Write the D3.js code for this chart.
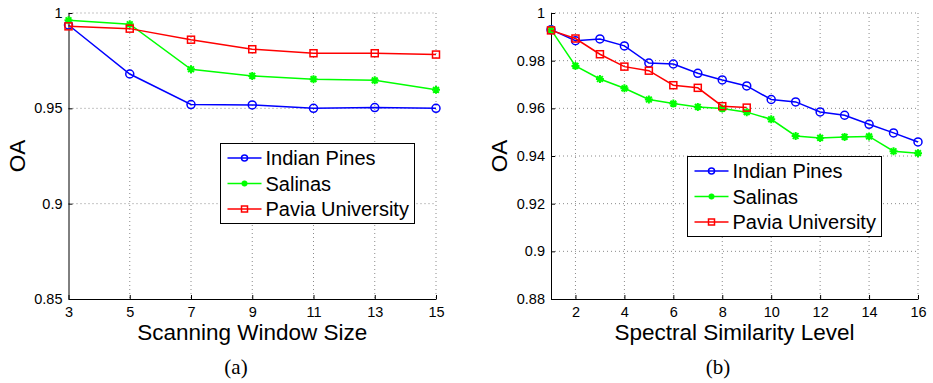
<!DOCTYPE html>
<html>
<head>
<meta charset="utf-8">
<script src="https://cdn.jsdelivr.net/npm/d3@7"></script>
<style>
  body { margin: 0; background: #fff; }
  svg { display: block; font-family: "Liberation Sans", Arial, Helvetica, sans-serif; }
  .grid line { stroke: #8a8a8a; stroke-dasharray: 1,3; stroke-width: 1; }
  .axis path, .axis line { stroke: #000; stroke-width: 1; }
  .axis text { font-size: 14.5px; fill: #000; font-family: "Liberation Sans", Arial, sans-serif; }
</style>
</head>
<body>
<svg id="chart" width="933" height="383"></svg>
<script>
// series names shared by both panels
const seriesNames = ["Indian Pines", "Salinas", "Pavia University"];
const seriesColors = ["#0000ff", "#00ff00", "#ff0000"];
const seriesMarkers = ["circle", "star", "square"];

// (a) scanning window size
const windowSizes = [3, 5, 7, 9, 11, 13, 15];
const windowIndianPines = [0.9937, 0.968, 0.952, 0.9518, 0.950, 0.9504, 0.950];
const windowSalinas = [0.9962, 0.9941, 0.9705, 0.967, 0.9653, 0.9647, 0.9597];
const windowPavia = [0.993, 0.9918, 0.986, 0.981, 0.9789, 0.9789, 0.9782];
const windowXTicks = [3, 5, 7, 9, 11, 13, 15];
const windowYTicks = [0.85, 0.9, 0.95, 1];

// (b) spectral similarity level
const levels = [1, 2, 3, 4, 5, 6, 7, 8, 9, 10, 11, 12, 13, 14, 15, 16];
const levelIndianPines = [0.993, 0.9884, 0.9891, 0.9862, 0.979, 0.9786, 0.9747, 0.9719,
  0.9694, 0.9637, 0.9627, 0.9585, 0.9571, 0.9533, 0.9497, 0.9459];
const levelSalinas = [0.993, 0.9778, 0.9723, 0.9684, 0.9637, 0.962, 0.9606, 0.9599,
  0.9584, 0.9554, 0.9484, 0.9476, 0.948, 0.9482, 0.942, 0.9412];
const levelPavia = [0.9927, 0.9893, 0.9827, 0.9775, 0.9758, 0.9697, 0.9686, 0.9609, 0.9603];
const levelXTicks = [2, 4, 6, 8, 10, 12, 14, 16];
const levelYTicks = [0.88, 0.9, 0.92, 0.94, 0.96, 0.98, 1];

const svg = d3.select("#chart");

function drawMarker(g, type, x, y, color, size) {
    if (type === "circle") {
        g.append("circle").attr("cx", x).attr("cy", y).attr("r", size)
            .attr("fill", "none").attr("stroke", color).attr("stroke-width", 1.5);
    } else if (type === "square") {
        g.append("rect").attr("x", x - size).attr("y", y - size)
            .attr("width", size * 2).attr("height", size * 2)
            .attr("fill", "none").attr("stroke", color).attr("stroke-width", 1.5);
    } else {
        // matlab '*' marker: plus + cross
        let s = size, d = size * 0.72;
        let p = `M${x - s},${y}L${x + s},${y}M${x},${y - s}L${x},${y + s}` +
            `M${x - d},${y - d}L${x + d},${y + d}M${x - d},${y + d}L${x + d},${y - d}`;
        g.append("path").attr("d", p).attr("stroke", color).attr("stroke-width", 2).attr("fill", "none");
    }
}

function drawPanel(opt) {
    let x = d3.scaleLinear().domain(opt.xDomain).range([opt.left, opt.right]);
    let y = d3.scaleLinear().domain(opt.yDomain).range([opt.bottom, opt.top]);
    let g = svg.append("g");

    // dotted grid
    let grid = g.append("g").attr("class", "grid");
    grid.selectAll(".gx").data(opt.xTicks.filter(t => t !== opt.xDomain[0]))
        .enter().append("line")
        .attr("x1", d => x(d)).attr("x2", d => x(d))
        .attr("y1", opt.top).attr("y2", opt.bottom);
    grid.selectAll(".gy").data(opt.yTicks.filter(t => t !== opt.yDomain[0]))
        .enter().append("line")
        .attr("x1", opt.left).attr("x2", opt.right)
        .attr("y1", d => y(d)).attr("y2", d => y(d));

    g.append("g").attr("class", "axis")
        .attr("transform", `translate(0,${opt.bottom})`)
        .call(d3.axisBottom(x).tickValues(opt.xTicks).tickFormat(d3.format("d"))
            .tickSizeInner(-4).tickSizeOuter(0).tickPadding(8));

    g.append("g").attr("class", "axis")
        .attr("transform", `translate(${opt.left},0)`)
        .call(d3.axisLeft(y).tickValues(opt.yTicks).tickFormat(d => String(+d.toFixed(2)))
            .tickSizeInner(-4).tickSizeOuter(0).tickPadding(6));

    // lines + markers
    opt.series.forEach((vals, i) => {
        let pts = vals.map((v, j) => [opt.xs[j], v]);
        g.append("path")
            .attr("d", d3.line().x(d => x(d[0])).y(d => y(d[1]))(pts))
            .attr("fill", "none").attr("stroke", seriesColors[i]).attr("stroke-width", 1.5);
        pts.forEach(p => drawMarker(g, seriesMarkers[i], x(p[0]), y(p[1]), seriesColors[i],
            seriesMarkers[i] === "square" ? 3.5 : 4));
    });

    // labels
    let cx = (opt.left + opt.right) / 2;
    g.append("text").attr("x", cx).attr("y", 340).attr("text-anchor", "middle")
        .style("font-size", "22.5px").text(opt.xLabel);
    g.append("text").attr("transform", `translate(${opt.left - 44},${(opt.top + opt.bottom) / 2}) rotate(-90)`)
        .attr("text-anchor", "middle").style("font-size", "22.5px").text("OA");
    g.append("text").attr("x", opt.captionX).attr("y", 374).attr("text-anchor", "middle")
        .style("font-family", "'Liberation Serif', 'Times New Roman', serif")
        .style("font-size", "21px").text(opt.caption);

    // legend
    let lg = g.append("g").attr("transform", `translate(${opt.legendX},${opt.legendY})`);
    lg.append("rect").attr("x", 0).attr("y", 0).attr("width", 194).attr("height", 80)
        .attr("fill", "#fff").attr("stroke", "#000").attr("stroke-width", 1);
    seriesNames.forEach((name, i) => {
        let ry = 14.5 + i * 25.5;
        lg.append("line").attr("x1", 7).attr("x2", 41).attr("y1", ry).attr("y2", ry)
            .attr("stroke", seriesColors[i]).attr("stroke-width", 1.5);
        drawMarker(lg, seriesMarkers[i], 24, ry, seriesColors[i], 3);
        lg.append("text").attr("x", 45).attr("y", ry + 7.3)
            .style("font-size", "20px").text(name);
    });
}

drawPanel({
    left: 68.5, right: 436, top: 13, bottom: 299,
    xDomain: [3, 15], yDomain: [0.85, 1],
    xTicks: windowXTicks, yTicks: windowYTicks,
    xs: windowSizes,
    series: [windowIndianPines, windowSalinas, windowPavia],
    xLabel: "Scanning Window Size", caption: "(a)", captionX: 236,
    legendX: 220.5, legendY: 143.5
});

drawPanel({
    left: 551, right: 918, top: 13, bottom: 299,
    xDomain: [1, 16], yDomain: [0.88, 1],
    xTicks: levelXTicks, yTicks: levelYTicks,
    xs: levels,
    series: [levelIndianPines, levelSalinas, levelPavia],
    xLabel: "Spectral Similarity Level", caption: "(b)", captionX: 718,
    legendX: 687.5, legendY: 156.5
});
</script>
</body>
</html>
